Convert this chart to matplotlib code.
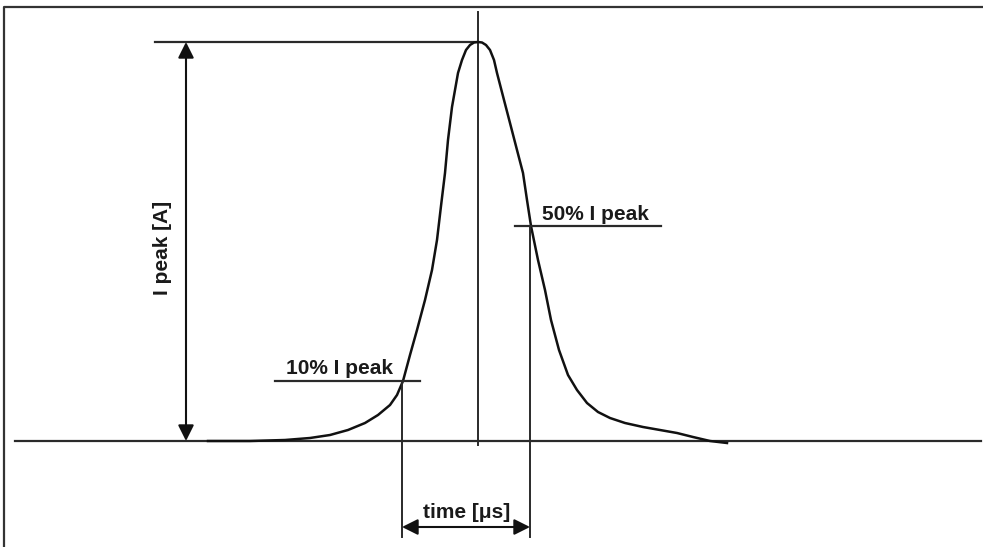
import matplotlib
matplotlib.use("Agg")
import matplotlib.pyplot as plt

# Pulse curve (time and current in arbitrary units, baseline = 0)
curve_t = [208, 250, 285, 310, 330, 348, 365, 378, 390, 397, 403, 410, 417, 425, 432,
           437, 441, 445, 448, 452, 455, 458, 462, 466, 470, 474, 478,
           482, 486, 490, 494, 497, 504, 510, 517, 523, 527, 531, 538, 545, 551, 559,
           568, 577, 587, 598, 610, 625, 643, 660, 677, 693, 710, 727]
curve_i = [0, 0, 1, 3, 6, 11, 18, 26, 36, 46, 60, 86, 111, 141, 171,
           201, 235, 268, 301, 334, 351, 368, 381, 391, 396, 398.5, 399,
           398.5, 396, 391, 381, 368, 341, 318, 291, 268, 241, 215, 181, 151, 121, 91,
           66, 51, 38, 29, 23, 18, 14, 11, 8, 4, 0, -2]

peak_t = 478
peak_i = 399
t10 = 402
i10 = 60
t50 = 530
i50 = 215

labels = {"peak": "I peak [A]", "p10": "10% I peak", "p50": "50% I peak", "time": "time [μs]"}

fig = plt.figure(figsize=(9.83, 5.47), dpi=100)
ax = fig.add_axes([0, 0, 1, 1])
ax.set_xlim(0, 983)
ax.set_ylim(441 - 547, 441)
ax.axis("off")

lc = "#2a2a2a"
font = dict(family=["Liberation Sans", "DejaVu Sans"], weight="bold", color="#1a1a1a")
fs = 15

# frame (left and top)
ax.plot([4, 4, 983], [441 - 547, 441 - 7, 441 - 7], color="#333333", lw=1.6, solid_capstyle="butt")

# baseline
ax.plot([15, 981], [0, 0], color=lc, lw=1.6)
# peak vertical
ax.plot([peak_t, peak_t], [441 - 12, -4], color=lc, lw=1.4)
# peak horizontal
ax.plot([155, peak_t], [peak_i, peak_i], color=lc, lw=1.6)

# curve
ax.plot(curve_t, curve_i, color="#111111", lw=1.8, solid_joinstyle="round")

# vertical double arrow
ax.annotate("", xy=(186, peak_i), xytext=(186, 0),
            arrowprops=dict(arrowstyle="<|-|>", color="#111111", lw=1.5,
                            mutation_scale=24, shrinkA=0, shrinkB=0))
ax.text(162.5, 193, labels["peak"], rotation=90, ha="center", va="center", fontsize=fs, **font)

# 10% marker
ax.plot([275, 420], [i10, i10], color=lc, lw=1.6)
ax.plot([t10, t10], [i10, 441 - 537], color=lc, lw=1.4)
ax.text(339, 441 - 369, labels["p10"], ha="center", va="center", fontsize=fs, **font)

# 50% marker
ax.plot([515, 661], [i50, i50], color=lc, lw=1.6)
ax.plot([t50, t50], [i50, 441 - 537], color=lc, lw=1.4)
ax.text(595, 441 - 215, labels["p50"], ha="center", va="center", fontsize=fs, **font)

# time arrow
ax.annotate("", xy=(t10, 441 - 527), xytext=(t50, 441 - 527),
            arrowprops=dict(arrowstyle="<|-|>", color="#111111", lw=1.5,
                            mutation_scale=24, shrinkA=0, shrinkB=0))
ax.text(467, 441 - 512, labels["time"], ha="center", va="center", fontsize=fs, **font)

fig.savefig("out.png", dpi=100, facecolor="white")
